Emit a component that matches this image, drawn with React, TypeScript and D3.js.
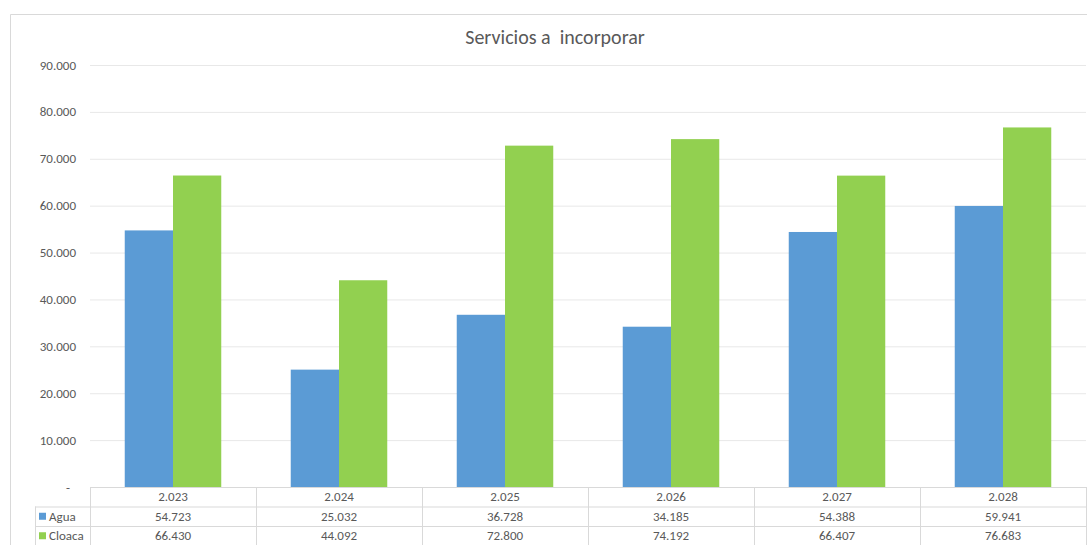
import * as d3 from 'd3';

const years = ['2.023', '2.024', '2.025', '2.026', '2.027', '2.028'];
const agua = [54723, 25032, 36728, 34185, 54388, 59941];
const cloaca = [66430, 44092, 72800, 74192, 66407, 76683];
const yTicks = [0, 10000, 20000, 30000, 40000, 50000, 60000, 70000, 80000, 90000];

const series = [
  { name: 'Agua', values: agua, color: '#5B9BD5' },
  { name: 'Cloaca', values: cloaca, color: '#92D050' },
];

const width = 1087;
const height = 545;
const left = 90;
const right = 1086;
const top = 65;
const bottom = 487;
const rowH = 19.5;
const textColor = '#595959';
const lineColor = '#d9d9d9';
const font = 'Carlito, Calibri, "Open Sans", sans-serif';

const fmt = (v: number) => (v === 0 ? '-' : d3.format(',.0f')(v).replace(/,/g, '.'));

export default function App() {
  const x = d3.scaleBand<string>().domain(years).range([left, right]);
  const inner = d3
    .scaleBand<string>()
    .domain(series.map((s) => s.name))
    .range([0, x.bandwidth()])
    .paddingOuter(0.72);
  const y = d3.scaleLinear([0, 90000], [bottom, top]);

  return (
    <svg
      width={width}
      height={height}
      style={{ position: 'absolute', left: 0, top: 0, fontFamily: font }}
    >
      <rect x={0} y={0} width={width} height={height} fill='#fff' />
      {/* chart frame */}
      <path d={`M10.5,${height} V14.5 H${width}`} fill='none' stroke={lineColor} />
      <text
        x={555}
        y={44}
        textAnchor='middle'
        fontSize={20}
        fill={textColor}
        style={{ whiteSpace: 'pre' }}
      >
        Servicios a  incorporar
      </text>

      {yTicks.map((t) => (
        <g key={t}>
          {t > 0 && (
            <line x1={left} x2={right} y1={y(t) + 0.5} y2={y(t) + 0.5} stroke='#e8e8e8' />
          )}
          <text
            x={t === 0 ? 68 : 76}
            y={y(t)}
            dy='0.35em'
            textAnchor={t === 0 ? 'middle' : 'end'}
            fontSize={13}
            fill={textColor}
          >
            {fmt(t)}
          </text>
        </g>
      ))}

      {years.map((yr, i) => (
        <g key={yr}>
          {series.map((s) => (
            <rect
              key={s.name}
              x={x(yr)! + inner(s.name)!}
              y={y(s.values[i])}
              width={inner.bandwidth()}
              height={bottom - y(s.values[i])}
              fill={s.color}
            />
          ))}
        </g>
      ))}

      {/* data table */}
      <g>
        <line x1={left} x2={right} y1={bottom + 0.5} y2={bottom + 0.5} stroke={lineColor} />
        {series.map((s, r) => (
          <line
            key={s.name}
            x1={35}
            x2={right}
            y1={bottom + rowH * (r + 1) + 0.5}
            y2={bottom + rowH * (r + 1) + 0.5}
            stroke={lineColor}
          />
        ))}
        <line x1={35.5} x2={35.5} y1={bottom + rowH} y2={height} stroke={lineColor} />
        {[...years.map((yr) => x(yr)!), right].map((px, i) => (
          <line key={i} x1={px + 0.5} x2={px + 0.5} y1={bottom} y2={height} stroke={lineColor} />
        ))}
        {years.map((yr) => (
          <text
            key={yr}
            x={x(yr)! + x.bandwidth() / 2}
            y={bottom + rowH / 2}
            dy='0.35em'
            textAnchor='middle'
            fontSize={13}
            fill={textColor}
          >
            {yr}
          </text>
        ))}
        {series.map((s, r) => {
          const cy = bottom + rowH * (r + 1) + rowH / 2;
          return (
            <g key={s.name}>
              <rect x={39} y={cy - 3.5} width={7} height={7} fill={s.color} />
              <text x={49} y={cy} dy='0.35em' fontSize={13} fill={textColor}>
                {s.name}
              </text>
              {s.values.map((v, i) => (
                <text
                  key={i}
                  x={x(years[i])! + x.bandwidth() / 2}
                  y={cy}
                  dy='0.35em'
                  textAnchor='middle'
                  fontSize={13}
                  fill={textColor}
                >
                  {fmt(v)}
                </text>
              ))}
            </g>
          );
        })}
      </g>
    </svg>
  );
}
